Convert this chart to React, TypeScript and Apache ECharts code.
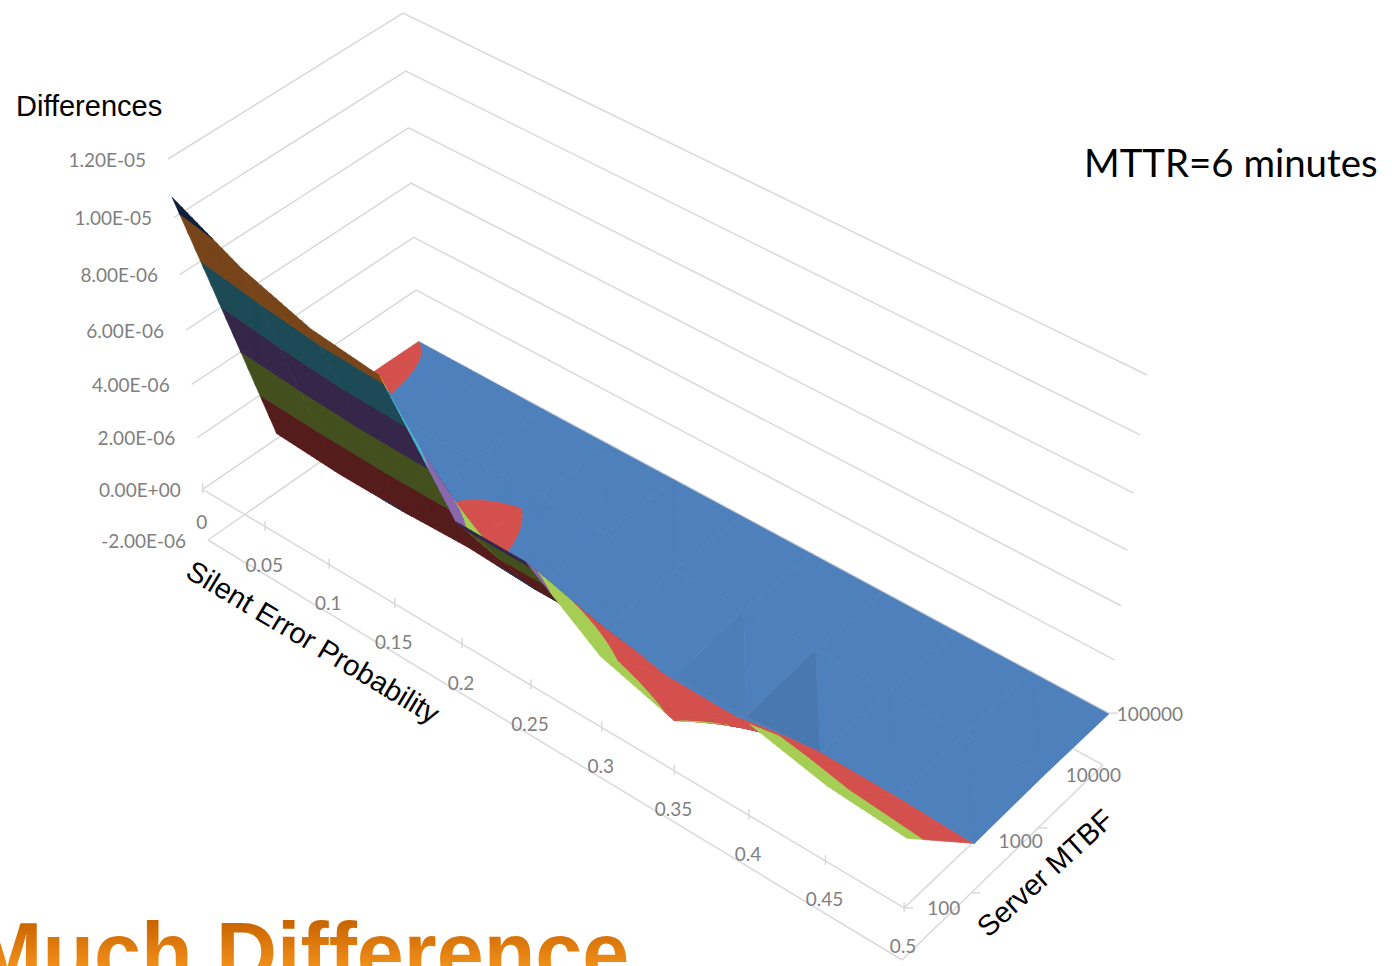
import React, { useEffect, useRef } from "react";
import * as echarts from "echarts";

// Axis categories and tick values
const errorProbabilities = [0, 0.05, 0.1, 0.15, 0.2, 0.25, 0.3, 0.35, 0.4, 0.45, 0.5];
const mtbfLabels = ["100", "1000", "10000", "100000"];
const differenceTicks = [-2e-6, 0, 2e-6, 4e-6, 6e-6, 8e-6, 1e-5, 1.2e-5];
const differenceTickLabels = ["-2.00E-06", "0.00E+00", "2.00E-06", "4.00E-06", "6.00E-06", "8.00E-06", "1.00E-05", "1.20E-05"];

// Differences per server MTBF, one value per silent error probability
const diffMtbf100 = [1.07e-5, 9.5e-6, 8.7e-6, 8.4e-6, 4.6e-6, 4.6e-6, 2.7e-6, 1.9e-6, 3.4e-6, 2.8e-6, 2.6e-6];
const diffMtbf1000 = [2e-7, 2e-8, -1e-8, 6e-8, -8e-8, -5e-8, -4e-7, -3e-7, -3e-8, -3e-8, -1e-7];
const diffMtbf10000 = [3e-8, -3.5e-8, -2e-8, -2e-8, -5e-8, -3e-8, -3e-8, -2e-8, -2e-8, -2e-8, -2e-8];
const diffMtbf100000 = [1e-10, -1.5e-8, -3e-8, -3e-8, -3e-8, -3e-8, -3e-8, -3e-8, -3e-8, -3e-8, -3e-8];
const surfaceRows = [diffMtbf100, diffMtbf1000, diffMtbf10000, diffMtbf100000];

// Surface colours per value band, for the upper and lower side of the sheet
const topColors = ["#4E80BC", "#D4504E", "#A6CE55", "#8A68AE", "#4BB0CC", "#F0903C", "#4E80BC"];
const underColors = ["#1F3A5F", "#551C1C", "#43501F", "#35274A", "#1D4A56", "#774519", "#10203A"];

const GRID = "#D9D9D9";
const LABEL = "#7F7F7F";
const BANNER = "Much Difference";

// Screen corners of the plot box, indexed [s][m][z]
const corners = [
  [[[208, 540], [168, 159]], [[421, 392], [403, 13]]],
  [[[902, 960], [918, 568]], [[1103, 765], [1147, 375]]],
];
const warp = (t: number, w: number) => (t * w) / (1 + t * (w - 1));
const zMin = differenceTicks[0];
const zMax = differenceTicks[differenceTicks.length - 1];
const lastM = mtbfLabels.length - 1;
const lastS = errorProbabilities.length - 1;

// Perspective projection: s is the probability, m the MTBF index, z the difference
function project(s: number, m: number, z: number): [number, number] {
  const a = warp(s / 0.5, 0.88);
  const b = warp(m / lastM, 1.05);
  const c = warp((z - zMin) / (zMax - zMin), 0.92);
  const out: [number, number] = [0, 0];
  for (let k = 0; k < 2; k++) {
    let v = 0;
    for (let i = 0; i < 2; i++)
      for (let j = 0; j < 2; j++)
        for (let l = 0; l < 2; l++)
          v += (i ? a : 1 - a) * (j ? b : 1 - b) * (l ? c : 1 - c) * corners[i][j][l][k];
    out[k] = v;
  }
  return out;
}

type V = [number, number, number];

function clipBand(poly: V[], lo: number, hi: number): V[] {
  const clip = (pts: V[], keep: (z: number) => boolean, lim: number) => {
    const out: V[] = [];
    pts.forEach((p, i) => {
      const q = pts[(i + 1) % pts.length];
      const pk = keep(p[2]);
      const qk = keep(q[2]);
      if (pk) out.push(p);
      if (pk !== qk) {
        const t = (lim - p[2]) / (q[2] - p[2]);
        out.push([p[0] + t * (q[0] - p[0]), p[1] + t * (q[1] - p[1]), lim]);
      }
    });
    return out;
  };
  let r = clip(poly, (z) => z >= lo, lo);
  if (r.length) r = clip(r, (z) => z <= hi, hi);
  return r;
}

function darken(hex: string, f: number) {
  const n = parseInt(hex.slice(1), 16);
  const c = [(n >> 16) & 255, (n >> 8) & 255, n & 255].map((x) => Math.round(x * f));
  return `rgb(${c[0]},${c[1]},${c[2]})`;
}

// Adds one facet to the path of its colour; the lower side is kept apart so it can be painted first
function addFacet(under: Map<string, string>, top: Map<string, string>, tri: V[], shade: number) {
  const p = tri.map((v) => project(v[0], v[1], v[2]));
  const area = (p[1][0] - p[0][0]) * (p[2][1] - p[0][1]) - (p[1][1] - p[0][1]) * (p[2][0] - p[0][0]);
  const palette = area < 0 ? topColors : underColors;
  const target = area < 0 ? top : under;
  for (let b = 0; b < differenceTicks.length - 1; b++) {
    const piece = clipBand(tri, differenceTicks[b], differenceTicks[b + 1]);
    if (piece.length < 3) continue;
    const fill = darken(palette[b], shade);
    const d = piece
      .map((v, i) => {
        const q = project(v[0], v[1], v[2]);
        return `${i ? "L" : "M"}${q[0].toFixed(2)} ${q[1].toFixed(2)}`;
      })
      .join("");
    target.set(fill, (target.get(fill) || "") + d + "Z");
  }
}

// Slope of a facet along the probability axis, per grid step
function slopeAlongS(a: V, b: V, c: V) {
  const ux = (b[0] - a[0]) / 0.05;
  const uy = b[1] - a[1];
  const uz = b[2] - a[2];
  const vx = (c[0] - a[0]) / 0.05;
  const vy = c[1] - a[1];
  const vz = c[2] - a[2];
  const nx = uy * vz - uz * vy;
  const nz = ux * vy - uy * vx;
  return nz === 0 ? 0 : -nx / nz;
}

// One grid cell of the surface, divided into small facets where it leaves the flat blue sheet
function renderCell(params: any, api: any) {
  const i = api.value(0);
  const j = api.value(1);
  const s0 = errorProbabilities[i];
  const s1 = errorProbabilities[i + 1];
  const z00 = surfaceRows[j][i];
  const z10 = surfaceRows[j][i + 1];
  const z01 = surfaceRows[j + 1][i];
  const z11 = surfaceRows[j + 1][i + 1];
  const flat = Math.max(z00, z10, z01, z11) <= 0;
  const n = flat ? 1 : 14;
  const at = (u: number, v: number): V => [
    s0 + u * (s1 - s0),
    j + v,
    (1 - u) * (1 - v) * z00 + u * (1 - v) * z10 + (1 - u) * v * z01 + u * v * z11,
  ];
  const facetShade = (a: V, b: V, c: V) => {
    if (!flat) return 1;
    const rise = slopeAlongS(a, b, c);
    return rise < 4e-8 ? 1 : 1 - Math.min(0.08, rise * 2.6e5);
  };
  const under = new Map<string, string>();
  const top = new Map<string, string>();
  for (let b = n - 1; b >= 0; b--) {
    for (let a = 0; a < n; a++) {
      const p00 = at(a / n, b / n);
      const p10 = at((a + 1) / n, b / n);
      const p01 = at(a / n, (b + 1) / n);
      const p11 = at((a + 1) / n, (b + 1) / n);
      addFacet(under, top, [p10, p11, p01], facetShade(p10, p11, p01));
      addFacet(under, top, [p00, p10, p01], facetShade(p00, p10, p01));
    }
  }
  const children: any[] = [];
  [under, top].forEach((paths) =>
    paths.forEach((pathData, fill) =>
      children.push({
        type: "path",
        shape: { pathData },
        style: { fill, stroke: fill, lineWidth: 0.6 },
      }),
    ),
  );
  return { type: "group", children };
}

// Walls, floor and tick marks of the plot box
function renderFrame(params: any, api: any) {
  const stroke = { stroke: GRID, lineWidth: 1.5, fill: "none" };
  const line = (a: number[], b: number[]) => ({
    type: "line",
    shape: { x1: a[0], y1: a[1], x2: b[0], y2: b[1] },
    style: stroke,
  });
  const children: any[] = [];
  differenceTicks.forEach((z) => {
    children.push({
      type: "polyline",
      shape: { points: [project(0, 0, z), project(0, lastM, z), project(0.5, lastM, z)] },
      style: stroke,
    });
  });
  [zMin, 0].forEach((z) => {
    children.push(line(project(0, 0, z), project(0.5, 0, z)));
    children.push(line(project(0.5, 0, z), project(0.5, lastM, z)));
  });
  errorProbabilities.forEach((s) => {
    const p = project(s, 0, 0);
    children.push(line([p[0], p[1] - 6], [p[0], p[1] + 4]));
  });
  mtbfLabels.forEach((_, m) => {
    const p = project(0.5, m, m === 0 || m === lastM ? 0 : zMin);
    children.push(line(p, [p[0] + 9, p[1]]));
  });
  return { type: "group", children };
}

const cellRows: number[][] = [];
for (let j = lastM - 1; j >= 0; j--) for (let i = 0; i < lastS; i++) cellRows.push([i, j]);

const tickFont = { fontFamily: "Lato", fontSize: 19, fill: LABEL };
const titleFont = { fontFamily: "Liberation Sans", fontSize: 29, fill: "#000" };
const mtbfNudge = [[23, 0], [24, 0], [23, -1], [8, 0]];

function buildTexts() {
  const texts: any[] = [];
  differenceTicks.forEach((z, k) => {
    const p = project(0, 0, z);
    texts.push({
      type: "text",
      x: p[0] - 22,
      y: p[1],
      style: { ...tickFont, text: differenceTickLabels[k], align: "right", verticalAlign: "middle" },
    });
  });
  errorProbabilities.forEach((s) => {
    const p = project(s, 0, 0);
    texts.push({
      type: "text",
      x: p[0] - 1,
      y: p[1] + (s === 0 ? 32 : 38),
      style: { ...tickFont, text: String(s), align: "center", verticalAlign: "middle" },
    });
  });
  mtbfLabels.forEach((label, m) => {
    const p = project(0.5, m, 0);
    texts.push({
      type: "text",
      x: p[0] + mtbfNudge[m][0],
      y: p[1] + mtbfNudge[m][1],
      style: { ...tickFont, text: label, align: "left", verticalAlign: "middle" },
    });
  });
  texts.push({
    type: "text",
    x: 16,
    y: 106,
    style: { ...titleFont, text: "Differences", align: "left", verticalAlign: "middle" },
  });
  texts.push({
    type: "text",
    x: 313,
    y: 642,
    rotation: -0.54,
    style: { ...titleFont, text: "Silent Error Probability", align: "center", verticalAlign: "middle" },
  });
  texts.push({
    type: "text",
    x: 1045,
    y: 873,
    rotation: 0.74,
    style: { ...titleFont, text: "Server MTBF", align: "center", verticalAlign: "middle" },
  });
  texts.push({
    type: "text",
    x: 1084,
    y: 162,
    style: { fontFamily: "Lato", fontSize: 38.4, fill: "#000", text: "MTTR=6 minutes", align: "left", verticalAlign: "middle" },
  });
  texts.push({
    type: "text",
    x: -28,
    y: 995,
    style: {
      fontFamily: "Liberation Sans",
      fontWeight: "bold",
      fontSize: 84.5,
      text: BANNER,
      align: "left",
      verticalAlign: "bottom",
      fill: "#E07E0C",
    },
  });
  return texts;
}

// The banner's vertical colour ramp is set on its SVG text node
function applyBannerGradient(root: HTMLElement) {
  const svg = root.querySelector("svg");
  if (!svg) return;
  const ns = "http://www.w3.org/2000/svg";
  const gradient = document.createElementNS(ns, "linearGradient");
  gradient.setAttribute("id", "banner-ramp");
  gradient.setAttribute("x1", "0");
  gradient.setAttribute("x2", "0");
  gradient.setAttribute("y1", "0");
  gradient.setAttribute("y2", "1");
  [["0.17", "#C96400"], ["0.66", "#F2901A"]].forEach(([offset, color]) => {
    const stop = document.createElementNS(ns, "stop");
    stop.setAttribute("offset", offset);
    stop.setAttribute("stop-color", color);
    gradient.appendChild(stop);
  });
  const defs = document.createElementNS(ns, "defs");
  defs.appendChild(gradient);
  svg.appendChild(defs);
  svg.querySelectorAll("text").forEach((t) => {
    if (t.textContent === BANNER) t.setAttribute("fill", "url(#banner-ramp)");
  });
}

export default function App() {
  const ref = useRef<HTMLDivElement>(null);
  useEffect(() => {
    document.body.style.margin = "0";
    const chart = echarts.init(ref.current!, undefined, { renderer: "svg" });
    chart.setOption({
      animation: false,
      backgroundColor: "#fff",
      graphic: { elements: buildTexts().map((t) => ({ ...t, z: 10, silent: true })) },
      series: [
        { type: "custom", coordinateSystem: "none", silent: true, z: 1, data: [[0]], renderItem: renderFrame },
        { type: "custom", coordinateSystem: "none", silent: true, z: 2, data: cellRows, renderItem: renderCell },
      ],
    });
    applyBannerGradient(ref.current!);
    return () => chart.dispose();
  }, []);
  return <div ref={ref} style={{ position: "fixed", left: 0, top: 0, width: 1392, height: 966 }} />;
}
